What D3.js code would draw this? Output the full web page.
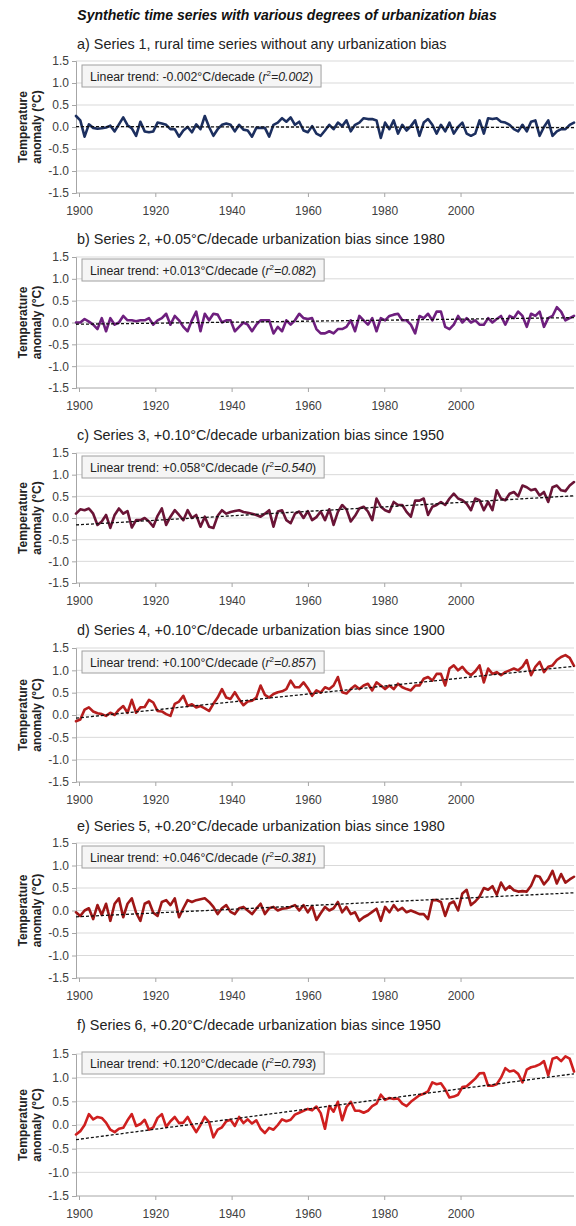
<!DOCTYPE html>
<html>
<head>
<meta charset="utf-8">
<script src="https://cdn.jsdelivr.net/npm/d3@7"></script>
<style>
  body { margin: 0; background: #fff; }
  svg { display: block; }
</style>
</head>
<body>
<script>
// ---- Data -------------------------------------------------------------
const mainTitle = "Synthetic time series with various degrees of urbanization bias";

const panelTitles = [
  "a) Series 1, rural time series without any urbanization bias",
  "b) Series 2, +0.05°C/decade urbanization bias since 1980",
  "c) Series 3, +0.10°C/decade urbanization bias since 1950",
  "d) Series 4, +0.10°C/decade urbanization bias since 1900",
  "e) Series 5, +0.20°C/decade urbanization bias since 1980",
  "f) Series 6, +0.20°C/decade urbanization bias since 1950"
];

// Linear trend (°C/decade) and r² as printed in each box
const trendLabels = ["-0.002", "+0.013", "+0.058", "+0.100", "+0.046", "+0.120"];
const r2Labels = ["0.002", "0.082", "0.540", "0.857", "0.381", "0.793"];
// Value of the fitted trend line in 1900
const trendStart = [0.01, -0.04, -0.16, -0.07, -0.14, -0.31];

const years = d3.range(1900, 2017);

const series1 = [
  0.25, 0.15, -0.22, 0.06, -0.02, -0.04, -0.03, -0.01, 0.03, -0.10,
  0.06, 0.22, 0.04, -0.03, -0.20, 0.12, -0.10, -0.12, -0.10, 0.10,
  0.08, 0.05, -0.05, -0.05, -0.22, -0.08, 0.00, -0.12, 0.06, -0.05,
  0.25, 0.00, -0.20, -0.05, 0.05, 0.08, 0.05, -0.10, 0.05, -0.06,
  -0.08, -0.22, -0.02, -0.02, -0.02, -0.22, 0.05, 0.10, 0.20, 0.12,
  0.22, 0.05, 0.12, -0.08, -0.12, 0.02, -0.15, -0.20, -0.08, 0.05,
  -0.05, 0.10, 0.02, 0.15, -0.10, 0.05, 0.10, 0.20, 0.18, 0.18,
  0.15, -0.25, 0.10, -0.05, 0.15, -0.15, 0.05, -0.08, 0.02, 0.15,
  -0.20, 0.10, 0.18, 0.05, -0.15, 0.05, -0.10, 0.10, -0.15, 0.00,
  0.10, -0.15, -0.20, -0.15, 0.15, -0.15, 0.20, 0.18, 0.20, 0.12,
  0.10, 0.05, -0.05, -0.10, 0.05, -0.10, 0.12, 0.15, -0.20, 0.00,
  0.15, -0.20, -0.10, -0.05, -0.05, 0.05, 0.10
];

const series2 = [
  0.00, 0.00, 0.08, 0.02, -0.05, -0.15, 0.10, -0.20, 0.10, -0.05,
  0.00, 0.15, 0.05, 0.05, 0.03, 0.05, 0.05, 0.10, -0.05, 0.05,
  0.10, 0.20, -0.05, 0.15, 0.05, -0.10, -0.20, 0.05, 0.25, -0.20,
  0.20, 0.05, 0.20, 0.18, 0.00, 0.05, 0.05, -0.20, -0.10, 0.00,
  -0.05, -0.20, -0.05, 0.05, 0.05, 0.05, -0.25, -0.10, -0.20, 0.05,
  -0.05, 0.05, 0.20, 0.10, 0.08, 0.10, -0.15, -0.25, -0.25, -0.20,
  -0.25, -0.15, -0.15, -0.10, 0.05, -0.20, 0.15, 0.05, -0.05, 0.10,
  -0.20, 0.10, 0.05, 0.15, 0.18, 0.20, 0.05, 0.05, -0.05, -0.25,
  0.15, 0.10, 0.20, 0.05, 0.25, 0.25, -0.10, -0.15, -0.05, 0.15,
  0.00, 0.10, 0.00, 0.05, -0.05, -0.05, 0.10, 0.00, 0.08, 0.15,
  -0.05, 0.15, 0.10, 0.25, 0.15, -0.10, 0.20, 0.15, 0.25, -0.10,
  0.10, 0.15, 0.35, 0.25, 0.05, 0.10, 0.15
];

const series3 = [
  0.10, 0.20, 0.18, 0.22, 0.10, -0.16, -0.08, 0.07, -0.23, 0.07,
  0.22, 0.10, 0.16, -0.22, -0.05, -0.05, 0.00, -0.08, -0.20, 0.05,
  0.22, -0.16, 0.03, 0.18, 0.07, -0.05, 0.18, 0.00, 0.07, -0.20,
  0.03, -0.20, -0.23, 0.05, 0.18, 0.10, 0.14, 0.16, 0.18, 0.14,
  0.12, 0.10, 0.07, 0.03, 0.10, 0.18, -0.20, 0.15, 0.18, -0.05,
  -0.12, 0.10, 0.15, 0.00, 0.16, -0.05, 0.02, 0.15, -0.05, 0.20,
  -0.16, 0.14, 0.30, 0.20, -0.08, 0.05, 0.22, 0.26, 0.15, -0.05,
  0.45, 0.26, 0.18, 0.14, 0.37, 0.30, 0.30, 0.14, 0.03, 0.40,
  0.40, 0.45, 0.07, 0.26, 0.30, 0.37, 0.30, 0.45, 0.56, 0.45,
  0.41, 0.33, 0.18, 0.45, 0.41, 0.18, 0.37, 0.18, 0.64, 0.45,
  0.41, 0.56, 0.60, 0.50, 0.75, 0.71, 0.64, 0.67, 0.52, 0.60,
  0.37, 0.71, 0.75, 0.64, 0.62, 0.75, 0.83
];

const series4 = [
  -0.14, -0.10, 0.12, 0.17, 0.08, 0.04, 0.02, -0.02, 0.05, 0.00,
  0.12, 0.20, 0.05, 0.34, 0.05, 0.17, 0.18, 0.34, 0.28, 0.09,
  0.08, 0.02, -0.02, 0.25, 0.30, 0.43, 0.20, 0.24, 0.17, 0.20,
  0.15, 0.09, 0.25, 0.39, 0.58, 0.39, 0.36, 0.51, 0.35, 0.22,
  0.30, 0.32, 0.39, 0.66, 0.45, 0.39, 0.47, 0.51, 0.53, 0.58,
  0.77, 0.62, 0.62, 0.73, 0.60, 0.43, 0.55, 0.50, 0.62, 0.58,
  0.66, 0.85, 0.51, 0.48, 0.58, 0.66, 0.58, 0.66, 0.70, 0.55,
  0.73, 0.66, 0.58, 0.66, 0.58, 0.70, 0.62, 0.58, 0.55, 0.66,
  0.66, 0.81, 0.85, 0.77, 0.92, 0.92, 0.66, 1.04, 1.11, 1.00,
  1.08, 0.96, 0.89, 0.98, 1.11, 0.73, 1.04, 0.92, 0.96, 0.89,
  0.96, 1.00, 1.04, 1.00, 1.08, 1.23, 0.89, 1.08, 1.19, 0.96,
  1.08, 1.11, 1.23, 1.30, 1.34, 1.28, 1.10
];

const series5 = [
  -0.04, -0.12, 0.00, 0.05, -0.19, 0.12, -0.10, 0.15, -0.23, 0.15,
  0.27, -0.15, 0.15, 0.27, -0.05, -0.23, 0.15, 0.20, -0.05, -0.12,
  0.19, 0.23, 0.12, 0.27, -0.15, 0.05, 0.23, 0.19, 0.23, 0.25,
  0.27, 0.19, 0.08, -0.08, 0.05, 0.12, -0.03, -0.08, 0.05, 0.08,
  0.00, -0.08, 0.04, 0.15, -0.08, 0.05, 0.08, 0.00, 0.04, 0.05,
  0.08, 0.12, 0.00, 0.12, -0.04, 0.10, -0.21, -0.06, 0.08, 0.00,
  0.05, 0.19, -0.04, 0.08, -0.08, -0.04, -0.23, -0.15, -0.10, -0.03,
  0.04, -0.23, 0.08, -0.04, 0.12, 0.00, 0.06, -0.04, 0.00, -0.04,
  -0.08, -0.08, -0.19, 0.23, 0.23, 0.19, -0.12, 0.15, 0.20, 0.00,
  0.38, 0.46, 0.12, 0.20, 0.31, 0.50, 0.46, 0.54, 0.35, 0.62,
  0.46, 0.54, 0.45, 0.42, 0.43, 0.42, 0.55, 0.77, 0.75, 0.58,
  0.69, 0.88, 0.60, 0.81, 0.62, 0.69, 0.75
];

const series6 = [
  -0.20, -0.13, 0.00, 0.23, 0.12, 0.17, 0.15, 0.05, -0.10, -0.15,
  -0.08, -0.06, 0.10, 0.23, -0.02, 0.02, 0.11, -0.10, -0.05, 0.15,
  0.23, -0.04, 0.08, 0.17, 0.04, 0.05, 0.17, 0.00, -0.15, 0.00,
  0.17, 0.06, -0.26, -0.10, -0.05, 0.08, 0.11, -0.02, 0.17, 0.04,
  0.12, 0.03, 0.10, -0.08, -0.17, -0.06, -0.10, 0.00, 0.12, 0.08,
  0.11, 0.22, 0.26, 0.30, 0.34, 0.31, 0.39, 0.25, -0.08, 0.40,
  0.28, 0.49, 0.10, 0.38, 0.49, 0.30, 0.30, 0.26, 0.30, 0.40,
  0.45, 0.64, 0.53, 0.57, 0.55, 0.56, 0.45, 0.40, 0.49, 0.56,
  0.63, 0.66, 0.71, 0.90, 0.86, 0.88, 0.75, 0.58, 0.60, 0.64,
  0.80, 0.82, 0.90, 0.98, 1.09, 1.10, 0.83, 0.83, 0.86, 1.00,
  1.20, 1.13, 1.15, 1.08, 0.90, 1.17, 1.22, 1.24, 1.28, 1.35,
  1.05, 1.40, 1.43, 1.35, 1.45, 1.40, 1.13
];

const allSeries = [series1, series2, series3, series4, series5, series6];
const lineColors = ["#1c2f5f", "#6e1f7e", "#6a1436", "#b51d1d", "#9e1616", "#cf1f1f"];

const yTicks = [-1.5, -1.0, -0.5, 0.0, 0.5, 1.0, 1.5];
const xTickLabels = [1900, 1920, 1940, 1960, 1980, 2000];

// ---- Layout -----------------------------------------------------------
const W = 576, H = 1226;
const plotLeft = 76, plotRight = 574;
const panelTop = [61, 257, 453, 648, 843, 1054];
const panelH = [132, 131, 130, 134, 135, 142];
const boxMid = [15, 13, 14, 14, 14, 9];     // box centre below the top gridline
const headGap = [12, 13, 13, 13, 12, 24];   // heading baseline above the top gridline

const svg = d3.select("body").append("svg")
  .attr("width", W).attr("height", H)
  .style("font-family", "'Liberation Sans', Arial, sans-serif");

svg.append("text")
  .attr("x", 287).attr("y", 20)
  .attr("text-anchor", "middle")
  .attr("font-size", 14).attr("font-weight", "bold").attr("font-style", "italic")
  .attr("fill", "#111")
  .text(mainTitle);

// data positions: one point per year across the plot width
const x = d3.scaleLinear().domain([1900, 2016]).range([plotLeft, plotRight]);
// category-style label axis: a label every 20 units over a 130-unit span
const xLabelScale = d3.scaleLinear().domain([1900, 2030]).range([plotLeft + 3, plotRight + 1]);

allSeries.forEach((vals, i) => {
  const top = panelTop[i], bottom = top + panelH[i];
  const y = d3.scaleLinear().domain([-1.5, 1.5]).range([bottom, top]);
  const g = svg.append("g");

  // panel heading
  g.append("text")
    .attr("x", plotLeft + 1).attr("y", top - headGap[i])
    .attr("font-size", 14.4).attr("fill", "#222")
    .text(panelTitles[i]);

  // horizontal gridlines
  g.append("g").selectAll("line")
    .data(yTicks.filter(t => t > -1.5))
    .join("line")
    .attr("x1", plotLeft).attr("x2", plotRight)
    .attr("y1", d => y(d)).attr("y2", d => y(d))
    .attr("stroke", "#d9d9d9").attr("stroke-width", 1);

  // y axis
  const yAxis = g.append("g")
    .attr("transform", `translate(${plotLeft},0)`)
    .call(d3.axisLeft(y).tickValues(yTicks).tickFormat(d => d.toFixed(1)).tickSize(4).tickPadding(3));
  yAxis.select(".domain").attr("stroke", "#a6a6a6");
  yAxis.selectAll(".tick line").attr("stroke", "#a6a6a6");
  yAxis.selectAll(".tick text").attr("font-size", 12).attr("fill", "#404040")
    .attr("font-family", "'Liberation Sans', Arial, sans-serif");

  // x axis line along the bottom gridline
  g.append("line")
    .attr("x1", plotLeft).attr("x2", plotRight)
    .attr("y1", bottom).attr("y2", bottom)
    .attr("stroke", "#a6a6a6");
  const xAxis = g.append("g")
    .attr("transform", `translate(0,${bottom})`)
    .call(d3.axisBottom(xLabelScale).tickValues(xTickLabels).tickFormat(d3.format("d"))
      .tickSize(4).tickPadding(9).tickSizeOuter(0));
  xAxis.select(".domain").remove();
  xAxis.selectAll(".tick line").attr("stroke", "#a6a6a6");
  xAxis.selectAll(".tick text").attr("font-size", 12).attr("fill", "#404040")
    .attr("font-family", "'Liberation Sans', Arial, sans-serif");

  // y axis title
  const cy = (top + bottom) / 2;
  const ttl = g.append("g").attr("font-size", 12).attr("font-weight", "bold").attr("fill", "#222")
    .attr("text-anchor", "middle");
  ttl.append("text").attr("transform", `translate(27,${cy}) rotate(-90)`).text("Temperature");
  ttl.append("text").attr("transform", `translate(41,${cy}) rotate(-90)`).text("anomaly (°C)");

  // data line
  const line = d3.line().x((d, k) => x(years[k])).y(d => y(d));
  g.append("path")
    .datum(vals)
    .attr("d", line)
    .attr("fill", "none")
    .attr("stroke", lineColors[i])
    .attr("stroke-width", 2.6)
    .attr("stroke-linejoin", "round")
    .attr("stroke-linecap", "round");

  // fitted linear trend, slope taken from the printed label
  const slopePerYear = parseFloat(trendLabels[i]) / 10;
  const trendPts = [1900, 2016].map(yr => [yr, trendStart[i] + slopePerYear * (yr - 1900)]);
  g.append("path")
    .datum(trendPts)
    .attr("d", d3.line().x(d => x(d[0])).y(d => y(d[1])))
    .attr("fill", "none")
    .attr("stroke", "#111")
    .attr("stroke-width", 1.3)
    .attr("stroke-dasharray", "3,2");

  // statistics box
  const bh = 22;
  const box = g.append("g").attr("transform", `translate(${plotLeft + 6},${top + boxMid[i] - bh / 2})`);
  const rect = box.append("rect").attr("height", bh).attr("fill", "#f5f5f5")
    .attr("stroke", "#a0a0a0").attr("stroke-width", 1);
  const t = box.append("text").attr("x", 8).attr("y", 15.5).attr("font-size", 12.3).attr("fill", "#222");
  t.append("tspan").text(`Linear trend: ${trendLabels[i]}°C/decade (`);
  t.append("tspan").attr("font-style", "italic").text("r");
  t.append("tspan").attr("font-size", 8).attr("dy", -5).text("2");
  t.append("tspan").attr("font-style", "italic").attr("dy", 5).text(`=${r2Labels[i]}`);
  t.append("tspan").text(")");
  rect.attr("width", t.node().getComputedTextLength() + 16);
});
</script>
</body>
</html>
